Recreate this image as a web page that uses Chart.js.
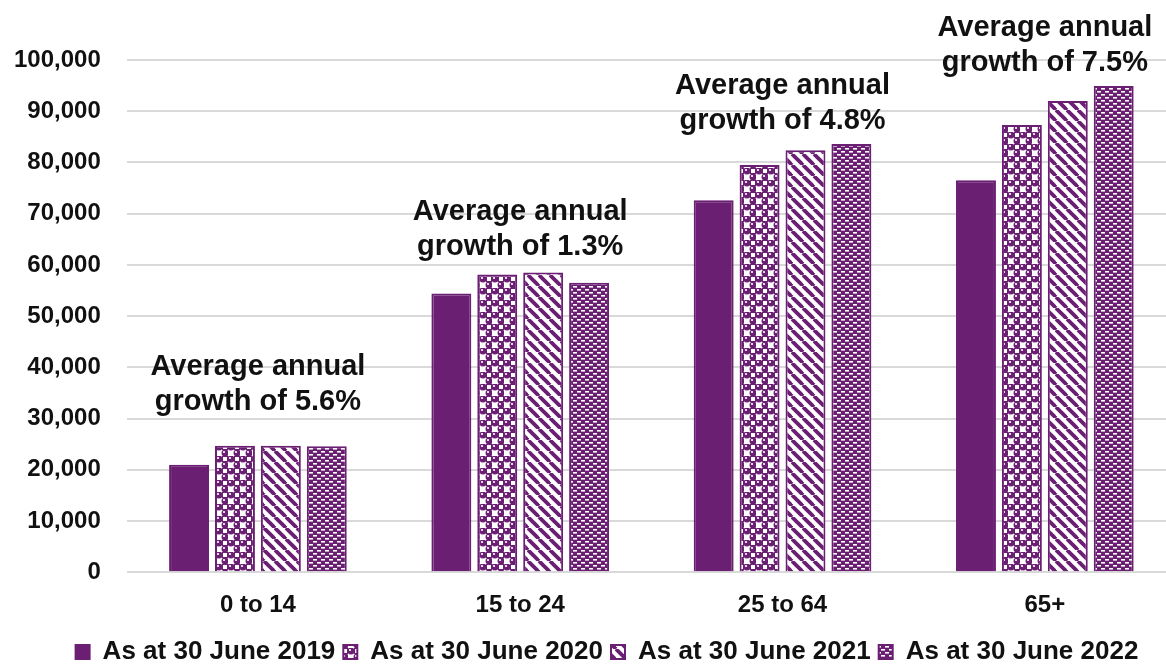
<!DOCTYPE html>
<html lang="en">
<head>
<meta charset="UTF-8">
<script src="https://cdn.jsdelivr.net/npm/chart.js"></script>
<title>Population by age group</title>
<style>
  html, body { margin: 0; padding: 0; background: #fff; overflow: hidden; }
  #wrap { width: 1178px; height: 664px; }
</style>
</head>
<body>
<div id="wrap"><canvas id="ages" width="1178" height="664"></canvas></div>

<script>
// data
var ageGroups = ['0 to 14', '15 to 24', '25 to 64', '65+'];
var seriesNames = ['As at 30 June 2019', 'As at 30 June 2020', 'As at 30 June 2021', 'As at 30 June 2022'];
var june2019 = [21000, 54400, 72600, 76500];
var june2020 = [24700, 58100, 79500, 87300];
var june2021 = [24700, 58500, 82400, 92000];
var june2022 = [24600, 56500, 83600, 94900];
var growthRates = ['5.6%', '1.3%', '4.8%', '7.5%'];
var yTicks = [0, 10000, 20000, 30000, 40000, 50000, 60000, 70000, 80000, 90000, 100000];

var purple = '#6b1f73';
var inkFont = '"Liberation Sans", Arial, sans-serif';

// small tiles used as bar fills
function tile(w, h, draw) {
    var c = document.createElement('canvas');
    c.width = w; c.height = h;
    draw(c.getContext('2d'));
    return document.createElement('canvas').getContext('2d').createPattern(c, 'repeat');
}

var spheres = tile(12, 12, function (g) {
    g.fillStyle = '#fff'; g.fillRect(0, 0, 12, 12);
    g.fillStyle = purple;
    [[3, 3], [9, 9]].forEach(function (p) {
        g.beginPath(); g.arc(p[0], p[1], 3.5, 0, Math.PI * 2); g.fill();
    });
    g.fillStyle = '#fff';
    [[2, 2], [8, 8]].forEach(function (p) {
        g.beginPath(); g.arc(p[0], p[1], 1.1, 0, Math.PI * 2); g.fill();
    });
    g.strokeStyle = purple; g.lineWidth = 1;
    g.strokeRect(6.5, 0.5, 5, 5);
});

var stripes = tile(11, 11, function (g) {
    g.fillStyle = '#fff'; g.fillRect(0, 0, 11, 11);
    g.strokeStyle = purple; g.lineWidth = 3.8;
    [-11, 0, 11].forEach(function (x0) {
        g.beginPath(); g.moveTo(x0, 0); g.lineTo(x0 + 11, 11); g.stroke();
    });
});

var dashes = tile(8, 6, function (g) {
    g.fillStyle = purple; g.fillRect(0, 0, 8, 6);
    g.fillStyle = '#fff';
    g.fillRect(1, 1, 4, 1.6);
    g.fillRect(5, 4, 4, 1.6);
    g.fillRect(-3, 4, 4, 1.6);
});

// "Average annual growth of x%" notes above each group
var growthLabels = {
    id: 'growthLabels',
    afterLayout: function (chart, args, opts) {
        // legend sits a little right of centre in the original
        chart.legend.left += opts.legendShift;
        chart.legend.right += opts.legendShift;
    },
    afterDatasetsDraw: function (chart, args, opts) {
        var ctx = chart.ctx, x = chart.scales.x, y = chart.scales.y;
        ctx.save();
        ctx.font = 'bold 29px ' + inkFont;
        ctx.fillStyle = '#111';
        ctx.textAlign = 'center';
        ctx.textBaseline = 'middle';
        ageGroups.forEach(function (g, i) {
            var top = Math.max(june2019[i], june2020[i], june2021[i], june2022[i]);
            var cx = x.getPixelForValue(i);
            var yb = y.getPixelForValue(top) - opts.gaps[i];
            ctx.fillText('growth of ' + growthRates[i], cx, yb);
            ctx.fillText('Average annual', cx, yb - 35);
        });
        ctx.restore();
    }
};

var fills = [purple, spheres, stripes, dashes];
var values = [june2019, june2020, june2021, june2022];

new Chart(document.getElementById('ages').getContext('2d'), {
    type: 'bar',
    data: {
        labels: ageGroups,
        datasets: seriesNames.map(function (name, i) {
            return {
                label: name,
                data: values[i],
                backgroundColor: fills[i],
                borderColor: purple,
                borderWidth: 2,
                categoryPercentage: 0.7,
                barPercentage: 0.87
            };
        })
    },
    options: {
        responsive: false,
        animation: false,
        layout: { padding: { top: 60, left: -12, right: 2, bottom: -11 } },
        plugins: {
            tooltip: { enabled: false },
            growthLabels: { gaps: [44, 26, 23, 23], legendShift: 25 },
            legend: {
                position: 'bottom',
                labels: {
                    color: '#111',
                    font: { family: inkFont, size: 26, weight: 'bold' },
                    boxWidth: 14,
                    boxHeight: 14,
                    padding: 8
                }
            }
        },
        scales: {
            x: {
                grid: { display: false },
                border: { display: false },
                ticks: { color: '#111', padding: 11, font: { family: inkFont, size: 24, weight: 'bold' } }
            },
            y: {
                min: 0,
                max: 100000,
                afterBuildTicks: function (axis) {
                    axis.ticks = yTicks.map(function (v) { return { value: v }; });
                },
                grid: { color: '#d9d9d9', lineWidth: 2, drawTicks: false },
                border: { display: false },
                ticks: {
                    color: '#111',
                    padding: 26,
                    font: { family: inkFont, size: 24, weight: 'bold' },
                    callback: function (v) { return v.toLocaleString('en-US'); }
                }
            }
        }
    },
    plugins: [growthLabels]
});
</script>
</body>
</html>
